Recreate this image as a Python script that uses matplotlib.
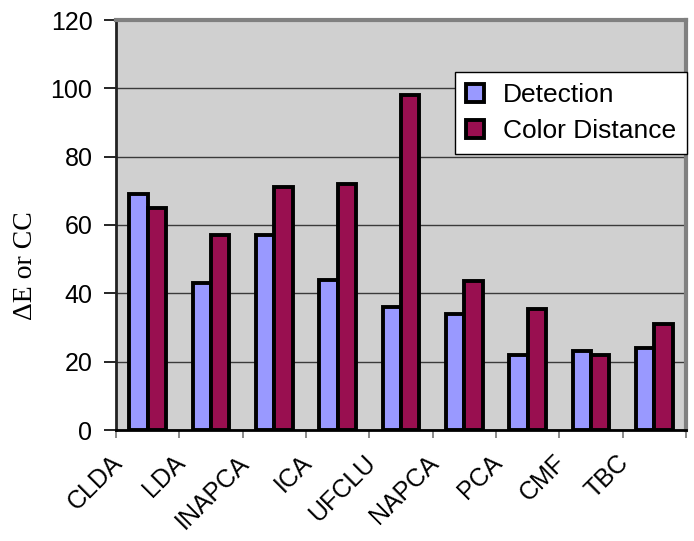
import matplotlib
matplotlib.use("Agg")
import matplotlib.pyplot as plt
import matplotlib.transforms as mtransforms
import numpy as np

categories = ["CLDA", "LDA", "INAPCA", "ICA", "UFCLU", "NAPCA", "PCA", "CMF", "TBC"]
detection = [69, 43, 57, 44, 36, 34, 22, 23, 24]
color_distance = [65, 57, 71, 72, 98, 43.5, 35.5, 22, 31]
y_ticks = [0, 20, 40, 60, 80, 100, 120]

blue = "#9999FF"
maroon = "#990F50"
bg = "#D0D0D0"

fig = plt.figure(figsize=(6.94, 5.41), dpi=100)
ax = fig.add_axes([116/694, 1-430/541, 570/694, 410/541])
ax.set_facecolor(bg)

x = np.arange(len(categories))
w = 0.29
lw = 2.8
ax.bar(x - w/2, detection, w, color=blue, edgecolor="black", linewidth=lw, zorder=3, label="Detection")
ax.bar(x + w/2, color_distance, w, color=maroon, edgecolor="black", linewidth=lw, zorder=3, label="Color Distance")

ax.set_xlim(-0.5, len(categories) - 0.5)
ax.set_ylim(0, 120)
ax.set_yticks(y_ticks)
ax.yaxis.grid(True, color="#3a3a3a", linewidth=1.0, zorder=1)
ax.set_axisbelow(True)

font = "Liberation Sans"
ax.set_yticklabels([str(t) for t in y_ticks], fontsize=18, family=font)
ax.tick_params(axis="y", direction="out", length=9, width=1.2, color="black", pad=8)

# category boundaries as ticks
ax.set_xticks(np.arange(len(categories) + 1) - 0.5)
ax.set_xticklabels([])
ax.tick_params(axis="x", direction="out", length=6, width=1.2, color="#777777")

offset = mtransforms.ScaledTranslation(-21/72, -21/72, fig.dpi_scale_trans)
trans = mtransforms.blended_transform_factory(ax.transData, ax.transAxes) + offset
for xi, lab in zip(x, categories):
    ax.text(xi, 0, lab, transform=trans, rotation=45, rotation_mode="anchor",
            ha="right", va="center", fontsize=18, family=font)

for s in ["top", "right"]:
    ax.spines[s].set_color("#808080")
    ax.spines[s].set_linewidth(3)
ax.spines["left"].set_color("#222222")
ax.spines["left"].set_linewidth(2)
ax.spines["bottom"].set_color("black")
ax.spines["bottom"].set_linewidth(2)

ax.set_ylabel("ΔE or CC", family="Liberation Serif", fontsize=20)
ax.yaxis.set_label_coords(-0.137, 0.40)

leg = ax.legend(loc="upper right", bbox_to_anchor=(1.002, 0.873), frameon=True,
                fancybox=False, edgecolor="black", framealpha=1, facecolor="white",
                prop={"family": font, "size": 19}, handlelength=0.7, handleheight=0.7,
                handletextpad=0.7, borderpad=0.42, labelspacing=0.45, borderaxespad=0)
leg.get_frame().set_linewidth(1.0)
leg.set_zorder(5)

fig.savefig("out.png", dpi=100)
